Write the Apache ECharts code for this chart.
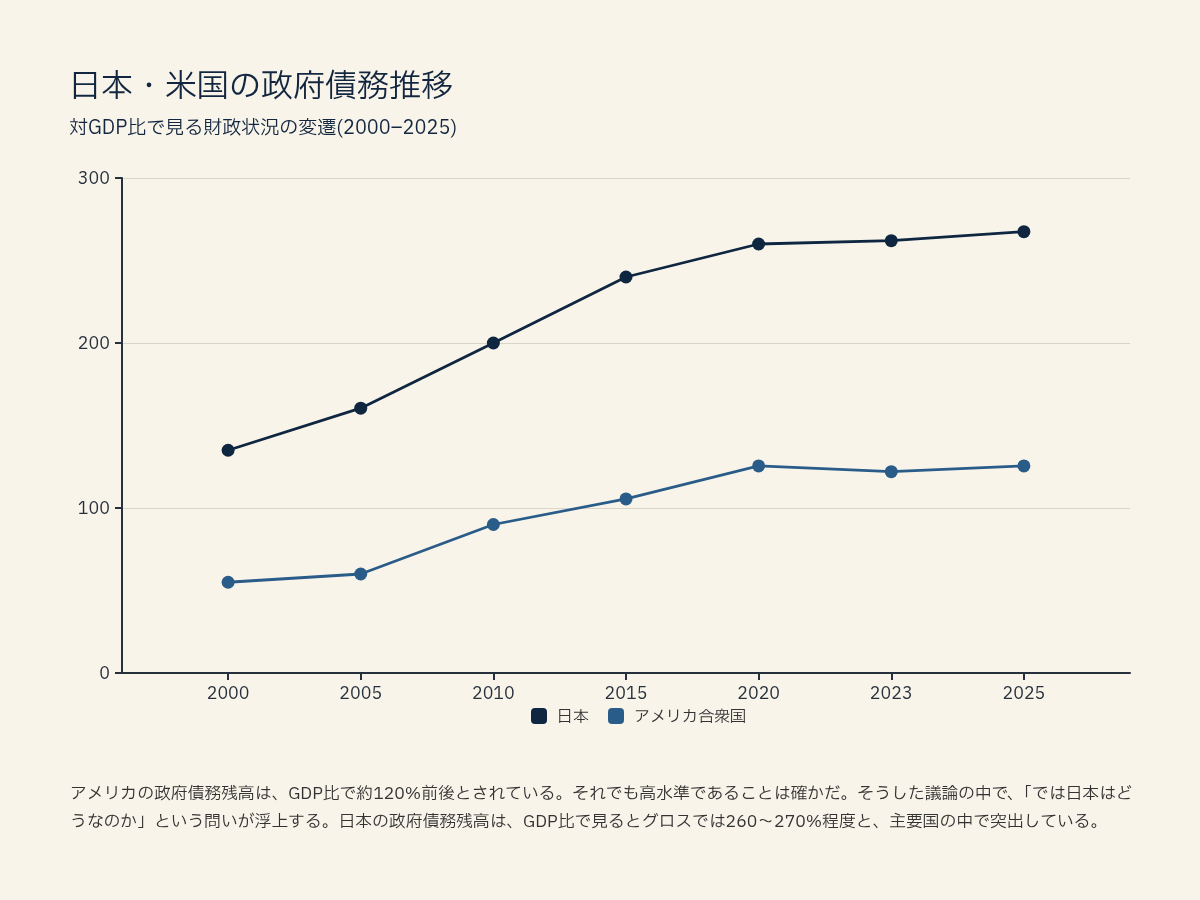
<!DOCTYPE html>
<html><head><meta charset="utf-8">
<script src="https://cdn.jsdelivr.net/npm/echarts@6/dist/echarts.min.js"></script>
<style>html,body{margin:0;padding:0;background:#f8f4ea;}#c{width:1200px;height:900px;}</style>
</head><body><div id="c"></div>
<script>
const years = ['2000','2005','2010','2015','2020','2023','2025'];
const japan = [135, 160.5, 200, 240, 260, 262, 267.5];
const usa = [55, 60, 90, 105.5, 125.5, 122, 125.5];
const yTicks = [0, 100, 200, 300];
const seriesNames = ['日本', 'アメリカ合衆国'];
const titleText = '日本・米国の政府債務推移';
const subtitleText = '対GDP比で見る財政状況の変遷(2000–2025)';
const noteLines = [
  'アメリカの政府債務残高は、GDP比で約120%前後とされている。それでも高水準であることは確かだ。そうした議論の中で、「では日本はど',
  'うなのか」という問いが浮上する。日本の政府債務残高は、GDP比で見るとグロスでは260〜270%程度と、主要国の中で突出している。'
];
const FONT = '"IBM Plex Sans JP","Noto Sans CJK JP","Noto Sans",sans-serif';
const idx = years.map((_, i) => i);
const chart = echarts.init(document.getElementById('c'));
chart.setOption({
  backgroundColor: '#f8f4ea',
  textStyle: {fontFamily: FONT},
  title: {
    text: titleText, subtext: subtitleText, left: 64, top: 64, itemGap: 16,
    textStyle: {fontSize: 32, fontWeight: 'normal', color: '#13263f', fontFamily: FONT},
    subtextStyle: {fontSize: 19, color: '#13263f', fontFamily: FONT}
  },
  grid: {left: 122, right: 70, top: 178, bottom: 227},
  legend: {
    data: seriesNames, bottom: 171, left: 526, icon: 'roundRect', itemWidth: 16, itemHeight: 16, itemGap: 19,
    textStyle: {fontSize: 16, color: '#333', fontFamily: FONT, padding: [0, 0, 0, 5]}
  },
  xAxis: {
    type: 'value', min: -0.8, max: 6.8,
    axisLine: {show: true, onZero: false, lineStyle: {color: '#27313d', width: 2}},
    axisTick: {show: true, customValues: idx, length: 7, lineStyle: {color: '#27313d', width: 2}},
    axisLabel: {customValues: idx, formatter: v => years[Math.round(v)], fontSize: 17, color: '#27313d', margin: 11},
    splitLine: {show: false}
  },
  yAxis: {
    type: 'value', min: 0, max: 300, interval: 100,
    axisLine: {show: true, onZero: false, lineStyle: {color: '#27313d', width: 2}},
    axisTick: {show: true, length: 7, lineStyle: {color: '#27313d', width: 2}},
    axisLabel: {fontSize: 17, color: '#27313d', margin: 12, customValues: yTicks},
    splitLine: {show: true, lineStyle: {color: '#d9d5c9', width: 1.2}}
  },
  series: [
    {name: seriesNames[0], type: 'line', data: japan.map((v, i) => [i, v]), symbol: 'circle', symbolSize: 13,
     lineStyle: {width: 2.8, color: '#0f2640'}, itemStyle: {color: '#0f2640'}},
    {name: seriesNames[1], type: 'line', data: usa.map((v, i) => [i, v]), symbol: 'circle', symbolSize: 13,
     lineStyle: {width: 2.8, color: '#2a5c89'}, itemStyle: {color: '#2a5c89'}}
  ],
  graphic: [{
    type: 'text', left: 70, top: 779,
    style: {text: noteLines.join('\n'), fontSize: 16.8, lineHeight: 28, fill: '#333333', fontFamily: FONT}
  }]
});
</script></body></html>
